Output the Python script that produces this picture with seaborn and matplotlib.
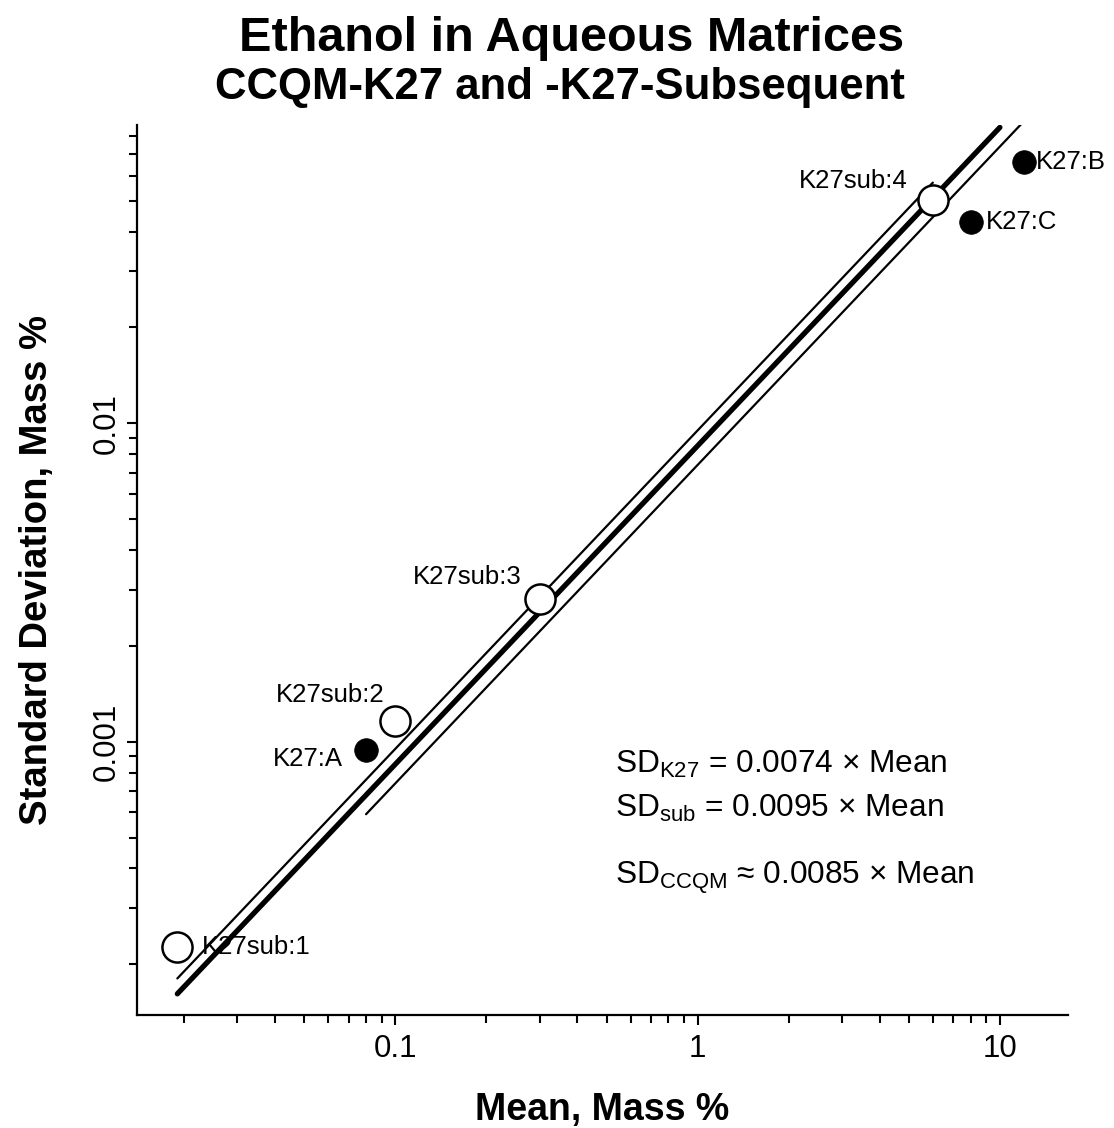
import numpy as np
import pandas as pd
import matplotlib
matplotlib.use('Agg')
import matplotlib.pyplot as plt
import seaborn as sns
from matplotlib.ticker import LogLocator, NullFormatter, FuncFormatter

# Donnees
sub_labels = ['K27sub:1', 'K27sub:2', 'K27sub:3', 'K27sub:4']
sub_mean = [0.019, 0.100, 0.30, 6.0]
sub_sd = [0.000227, 0.00116, 0.0028, 0.0502]

k27_labels = ['K27:A', 'K27:B', 'K27:C']
k27_mean = [0.080, 12.0, 8.0]
k27_sd = [0.00094, 0.066, 0.043]

# Droites SD = k * Mean
fit_k27 = 0.0074
fit_sub = 0.0095
fit_ccqm = 0.0085
range_k27 = [0.08, 12.0]
range_sub = [0.019, 6.0]
range_ccqm = [0.019, 10.0]

# decalages des etiquettes (points)
label_offsets = {
    'K27sub:1': (18, 0, 'left'),
    'K27sub:2': (-8, 19, 'right'),
    'K27sub:3': (-13, 16, 'right'),
    'K27sub:4': (-18, 14, 'right'),
    'K27:A': (-17, -6, 'right'),
    'K27:B': (9, 0, 'left'),
    'K27:C': (11, 0, 'left'),
}

sns.set_style('ticks')
plt.rcParams['font.family'] = ['Liberation Sans', 'DejaVu Sans']
plt.rcParams['mathtext.fontset'] = 'custom'
plt.rcParams['mathtext.rm'] = 'Liberation Sans'
plt.rcParams['mathtext.it'] = 'Liberation Sans:italic'
plt.rcParams['mathtext.bf'] = 'Liberation Sans:bold'
for key in ('text.color', 'axes.labelcolor', 'xtick.color', 'ytick.color', 'axes.edgecolor'):
    plt.rcParams[key] = 'black'

fig = plt.figure(figsize=(11.14, 11.28), dpi=100)
ax = fig.add_axes([0.1227, 0.1002, 0.8360, 0.7890])

def fit_line(rng, k):
    x = np.array(rng)
    return pd.DataFrame({'x': x, 'y': k * x})

sns.lineplot(data=fit_line(range_sub, fit_sub), x='x', y='y', ax=ax,
             color='black', linewidth=1.6, zorder=2)
sns.lineplot(data=fit_line(range_k27, fit_k27), x='x', y='y', ax=ax,
             color='black', linewidth=1.6, zorder=2)
sns.lineplot(data=fit_line(range_ccqm, fit_ccqm), x='x', y='y', ax=ax,
             color='black', linewidth=3.8, zorder=2)

df_sub = pd.DataFrame({'mean': sub_mean, 'sd': sub_sd, 'label': sub_labels})
df_k27 = pd.DataFrame({'mean': k27_mean, 'sd': k27_sd, 'label': k27_labels})

sns.scatterplot(data=df_sub, x='mean', y='sd', ax=ax, s=470, marker='o',
                facecolor='white', edgecolor='black', linewidth=1.8, zorder=3)
sns.scatterplot(data=df_k27, x='mean', y='sd', ax=ax, s=290, marker='o',
                color='black', edgecolor='black', linewidth=0.5, zorder=3)

ax.set_xscale('log')
ax.set_yscale('log')
ax.set_xlim(0.01394, 16.8)
ax.set_ylim(0.0001386, 0.0865)

for df in (df_sub, df_k27):
    for _, r in df.iterrows():
        dx, dy, ha = label_offsets[r['label']]
        ax.annotate(r['label'], (r['mean'], r['sd']), xytext=(dx, dy),
                    textcoords='offset points', ha=ha, va='center',
                    fontsize=18.5, zorder=4)

# equations
eq_size = 22.8
ax.text(0.5136, 0.281, r'SD$_{\mathrm{K27}}$ = 0.0074 × Mean', transform=ax.transAxes,
        fontsize=eq_size, va='center', ha='left')
ax.text(0.5136, 0.2326, r'SD$_{\mathrm{sub}}$ = 0.0095 × Mean', transform=ax.transAxes,
        fontsize=eq_size, va='center', ha='left')
ax.text(0.5136, 0.154, r'SD$_{\mathrm{CCQM}}$ ≈ 0.0085 × Mean', transform=ax.transAxes,
        fontsize=eq_size, va='center', ha='left')

# axes
sns.despine(ax=ax)
for sp in ('left', 'bottom'):
    ax.spines[sp].set_linewidth(1.6)
ax.xaxis.set_major_locator(LogLocator(base=10, numticks=10))
ax.yaxis.set_major_locator(LogLocator(base=10, numticks=10))
ax.xaxis.set_minor_locator(LogLocator(base=10, subs=np.arange(2, 10), numticks=20))
ax.yaxis.set_minor_locator(LogLocator(base=10, subs=np.arange(2, 10), numticks=20))
fmt = FuncFormatter(lambda v, p: '{:g}'.format(v))
ax.xaxis.set_major_formatter(fmt)
ax.yaxis.set_major_formatter(fmt)
ax.xaxis.set_minor_formatter(NullFormatter())
ax.yaxis.set_minor_formatter(NullFormatter())
ax.tick_params(which='major', direction='out', length=7.5, width=1.5,
               labelsize=22.5, pad=6, color='black', labelcolor='black')
ax.tick_params(axis='y', which='major', pad=3)
ax.tick_params(which='minor', direction='out', length=5.5, width=1.5, color='black')
plt.setp(ax.get_yticklabels(), rotation=90, va='center')

ax.set_xlabel('Mean, Mass %', fontsize=27, fontweight='bold', labelpad=20)
ax.set_ylabel('Standard Deviation, Mass %', fontsize=27.5, fontweight='bold', labelpad=27)

fig.text(0.513, 0.966, 'Ethanol in Aqueous Matrices', ha='center', va='center',
         fontsize=35, fontweight='bold')
fig.text(0.503, 0.922, 'CCQM-K27 and -K27-Subsequent', ha='center', va='center',
         fontsize=31.5, fontweight='bold')

fig.savefig('out.png', dpi=100)
